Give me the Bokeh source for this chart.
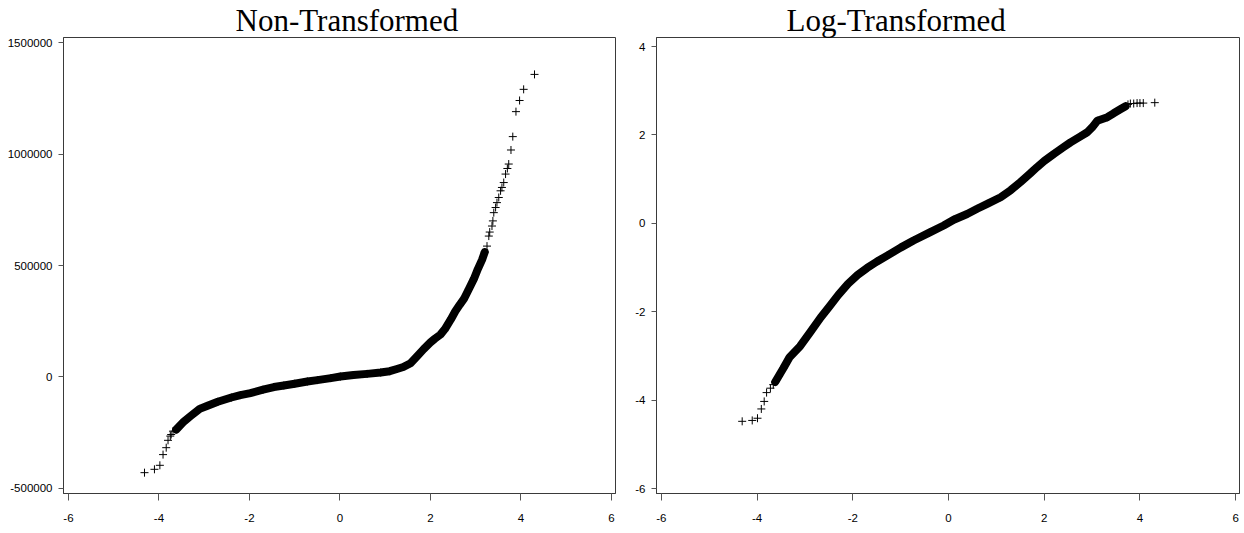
from bokeh.plotting import figure
from bokeh.layouts import row
from bokeh.models import Range1d, FixedTicker, Title
from bokeh.embed import file_html
from bokeh.resources import INLINE

# ---------------- data ----------------
# Non-transformed: dense central band (inverse normal quantile, value)
nt_band_q = [-3.62, -3.45, -3.30, -3.10, -2.94, -2.70, -2.40, -2.20, -1.98, -1.70,
             -1.46, -1.24, -1.00, -0.72, -0.50, -0.20, 0.01, 0.30, 0.60, 0.90,
             1.10, 1.26, 1.40, 1.56, 1.70, 1.85, 2.00, 2.10, 2.22, 2.32,
             2.45, 2.55, 2.65, 2.74, 2.85, 2.96, 3.05, 3.14, 3.20]
nt_band_v = [-236000, -200000, -175000, -143000, -130000, -111000, -92000, -81000, -72000, -57000,
             -45000, -38000, -30000, -20000, -14000, -5000, 2000, 9000, 14000, 20000,
             26000, 36000, 45000, 62000, 92000, 125000, 155000, 172000, 190000, 215000,
             258000, 295000, 325000, 350000, 395000, 440000, 485000, 525000, 560000]
# Non-transformed: individual tail points
nt_tail_q = [-4.32, -4.10, -3.98, -3.91, -3.84, -3.80, -3.75, -3.73, -3.69,
             3.25, 3.29, 3.31, 3.36, 3.38, 3.40, 3.44, 3.47, 3.51, 3.55, 3.58,
             3.62, 3.66, 3.70, 3.73, 3.78, 3.82, 3.89, 3.97, 4.06, 4.30]
nt_tail_v = [-429000, -414000, -396000, -348000, -317000, -284000, -265000, -258000, -243000,
             587000, 632000, 650000, 677000, 700000, 737000, 760000, 782000, 805000, 835000, 850000,
             872000, 910000, 935000, 955000, 1018000, 1078000, 1190000, 1240000, 1290000, 1357000]

# Log-transformed: dense central band
lt_band_q = [-3.62, -3.45, -3.32, -3.10, -2.88, -2.67, -2.50, -2.30, -2.10, -1.90,
             -1.70, -1.50, -1.28, -1.00, -0.73, -0.40, -0.10, 0.11, 0.39, 0.60,
             0.81, 1.09, 1.30, 1.50, 1.70, 1.85, 2.00, 2.20, 2.40, 2.55,
             2.75, 2.90, 3.00, 3.11, 3.32, 3.45, 3.59, 3.70]
lt_band_v = [-3.59, -3.28, -3.03, -2.78, -2.45, -2.13, -1.90, -1.62, -1.37, -1.17,
             -1.01, -0.87, -0.73, -0.55, -0.39, -0.21, -0.05, 0.08, 0.21, 0.33,
             0.44, 0.59, 0.75, 0.93, 1.12, 1.27, 1.41, 1.57, 1.72, 1.83,
             1.96, 2.06, 2.17, 2.32, 2.40, 2.49, 2.58, 2.65]
# Log-transformed: individual tail points
lt_tail_q = [-4.31, -4.10, -3.99, -3.91, -3.85, -3.80, -3.72, -3.66,
             3.75, 3.80, 3.87, 3.94, 4.00, 4.07, 4.31]
lt_tail_v = [-4.48, -4.46, -4.41, -4.20, -4.03, -3.83, -3.73, -3.65,
             2.69, 2.71, 2.71, 2.72, 2.72, 2.72, 2.73]

x_ticks = [-6, -4, -2, 0, 2, 4, 6]
x_tick_labels = ["-6", "-4", "-2", "0", "2", "4", "6"]
nt_y_ticks = [-500000, 0, 500000, 1000000, 1500000]
nt_y_tick_labels = ["-500000", "0", "500000", "1000000", "1500000"]
lt_y_ticks = [-6, -4, -2, 0, 2, 4]
lt_y_tick_labels = ["-6", "-4", "-2", "0", "2", "4"]

titles = ["Non-Transformed", "Log-Transformed"]

# ---------------- styling ----------------
AX = "#3a3a3a"
LABEL_FONT = "Liberation Sans"
TITLE_FONT = "Liberation Serif"


def make_panel(width, left, right, xr, yr, yt, ytl, band_q, band_v, tail_q, tail_v,
               title, title_offset):
    p = figure(width=width, height=533, output_backend="svg", toolbar_location=None,
               x_range=Range1d(*xr), y_range=Range1d(*yr),
               min_border_left=left, min_border_right=right,
               min_border_top=0, min_border_bottom=40)
    p.background_fill_color = "white"
    p.border_fill_color = "white"
    p.outline_line_color = AX
    p.outline_line_width = 1
    p.xgrid.visible = False
    p.ygrid.visible = False

    p.add_layout(Title(text=title, align="left", offset=title_offset,
                       text_font=TITLE_FONT, text_font_size="31px",
                       text_font_style="normal", text_color="black",
                       vertical_align="bottom", standoff=0), "above")

    p.xaxis.ticker = FixedTicker(ticks=x_ticks)
    p.xaxis.major_label_overrides = {t: s for t, s in zip(x_ticks, x_tick_labels)}
    p.yaxis.ticker = FixedTicker(ticks=yt)
    p.yaxis.major_label_overrides = {t: s for t, s in zip(yt, ytl)}

    for ax in (p.xaxis[0], p.yaxis[0]):
        ax.axis_line_color = AX
        ax.axis_line_width = 1
        ax.major_tick_line_color = "#555555"
        ax.major_tick_line_width = 1
        ax.major_tick_in = 0
        ax.minor_tick_line_color = None
        ax.major_label_text_font = LABEL_FONT
        ax.major_label_text_font_size = "11.5px"
        ax.major_label_text_color = "black"
    p.xaxis.major_tick_out = 7
    p.xaxis.major_label_standoff = 13
    p.yaxis.major_tick_out = 5
    p.yaxis.major_label_standoff = 6

    # dense band: overlapping markers form a solid thick band
    p.line(band_q, band_v, line_color="black", line_width=8,
           line_cap="round", line_join="round")
    p.scatter(band_q, band_v, marker="cross", size=8, line_color="black", line_width=1)
    p.scatter(tail_q, tail_v, marker="cross", size=8, line_color="black", line_width=1)
    return p


p1 = make_panel(622, 63, 7, (-6.11, 6.09), (-522472, 1522472), nt_y_ticks, nt_y_tick_labels,
                nt_band_q, nt_band_v, nt_tail_q, nt_tail_v, titles[0], 172)
p2 = make_panel(622, 34, 5, (-6.10, 6.08), (-6.113, 4.204), lt_y_ticks, lt_y_tick_labels,
                lt_band_q, lt_band_v, lt_tail_q, lt_tail_v, titles[1], 130)

layout = row(p1, p2)
open("out.html", "w").write(file_html(layout, INLINE))
